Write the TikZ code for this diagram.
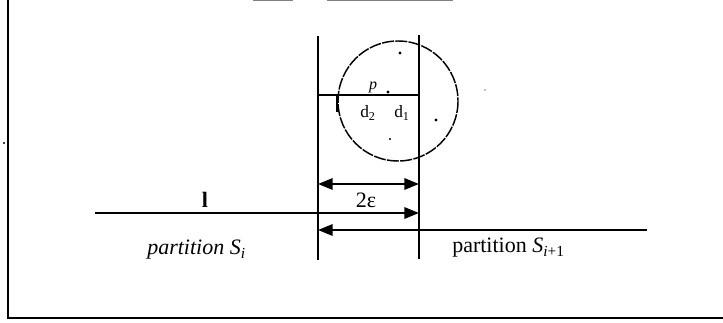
\documentclass[tikz,border=0pt]{standalone}
\usepackage{fontspec}
\setmainfont{Liberation Serif}
\usetikzlibrary{arrows.meta}
\begin{document}
\begin{tikzpicture}[x=0.75pt,y=-0.75pt,
  frame/.style={line width=1.2pt},
  vline/.style={line width=1.5pt},
  thin/.style={line width=1.2pt},
  circ/.style={line width=1.1pt,dash pattern=on 9pt off 1pt},
  dimr/.style={line width=1.7pt,-{Triangle[length=11pt,width=8.5pt]}},
  dimb/.style={line width=1.7pt,{Triangle[length=11pt,width=8.5pt]}-{Triangle[length=11pt,width=8.5pt]}},
  big/.style={inner sep=0pt,font=\fontsize{16.5}{18}\selectfont},
  small/.style={inner sep=0pt,font=\fontsize{13}{15}\selectfont},
  dotm/.style={fill,circle,inner sep=0pt,minimum size=2.4pt}]
\useasboundingbox (0,0) rectangle (723,323);
% frame
\coordinate (ftl) at (8,0);
\coordinate (fbl) at (8,318);
\coordinate (fbr) at (723,318);
\draw[frame] (ftl) -- (fbl) -- (fbr);
% remnants of cut-off caption at the top
\coordinate (r1a) at (253,0.8); \coordinate (r1b) at (293,0.8);
\coordinate (r2a) at (327,0.8); \coordinate (r2b) at (453,0.8);
\draw[line width=1pt,gray] (r1a) -- (r1b);
\draw[line width=1pt,gray] (r2a) -- (r2b);
% vertical partition lines
\coordinate (lt) at (318,36); \coordinate (lb) at (318,260);
\coordinate (rt) at (419,35); \coordinate (rb) at (419,259);
\draw[vline] (lt) -- (lb);
\draw[vline] (rt) -- (rb);
% circle
\coordinate (c) at (398,101);
\draw[circ] (c) circle[radius=60];
% horizontal line through p
\coordinate (ha) at (318,95); \coordinate (hb) at (419,95);
\draw[thin] (ha) -- (hb);
\coordinate (ta) at (337,95); \coordinate (tb) at (337,112);
\draw[line width=1pt] (ta) -- (tb);
% labels inside the circle
\node[inner sep=0pt,font=\itshape\fontsize{12}{14}\selectfont] (p) at (373,87) {p};
\node[small] (d2) at (368,113) {d\textsubscript{2}};
\node[small] (d1) at (402,113) {d\textsubscript{1}};
% points
\node[dotm] (q1) at (400,53) {};
\node[dotm] (q2) at (388,92) {};
\node[dotm] (q3) at (436,120) {};
\node[dotm,minimum size=1.8pt] (q4) at (390,139) {};
\node[dotm,minimum size=1.4pt,gray] (q5) at (485,90) {};
\node[dotm,minimum size=1.8pt] (q6) at (4,143) {};
% arrows
\coordinate (a1l) at (318,184); \coordinate (a1r) at (419,184);
\draw[dimb] (a1l) -- (a1r);
\node[big] (eps) at (366,200) {2ε};
\coordinate (a2l) at (95,213); \coordinate (a2r) at (419,213);
\draw[dimr] (a2l) -- (a2r);
\coordinate (a3r) at (647,230); \coordinate (a3l) at (318,230);
\draw[dimr] (a3r) -- (a3l);
% labels
\node[big] (l) at (205,200) {\textbf{l}};
\node[big,anchor=west] (si) at (147,250) {\textit{partition S}\textsubscript{\textit{i}}};
\node[big,anchor=west] (si1) at (452,248) {partition \textit{S}\textsubscript{\textit{i}+1}};
\end{tikzpicture}
\end{document}
